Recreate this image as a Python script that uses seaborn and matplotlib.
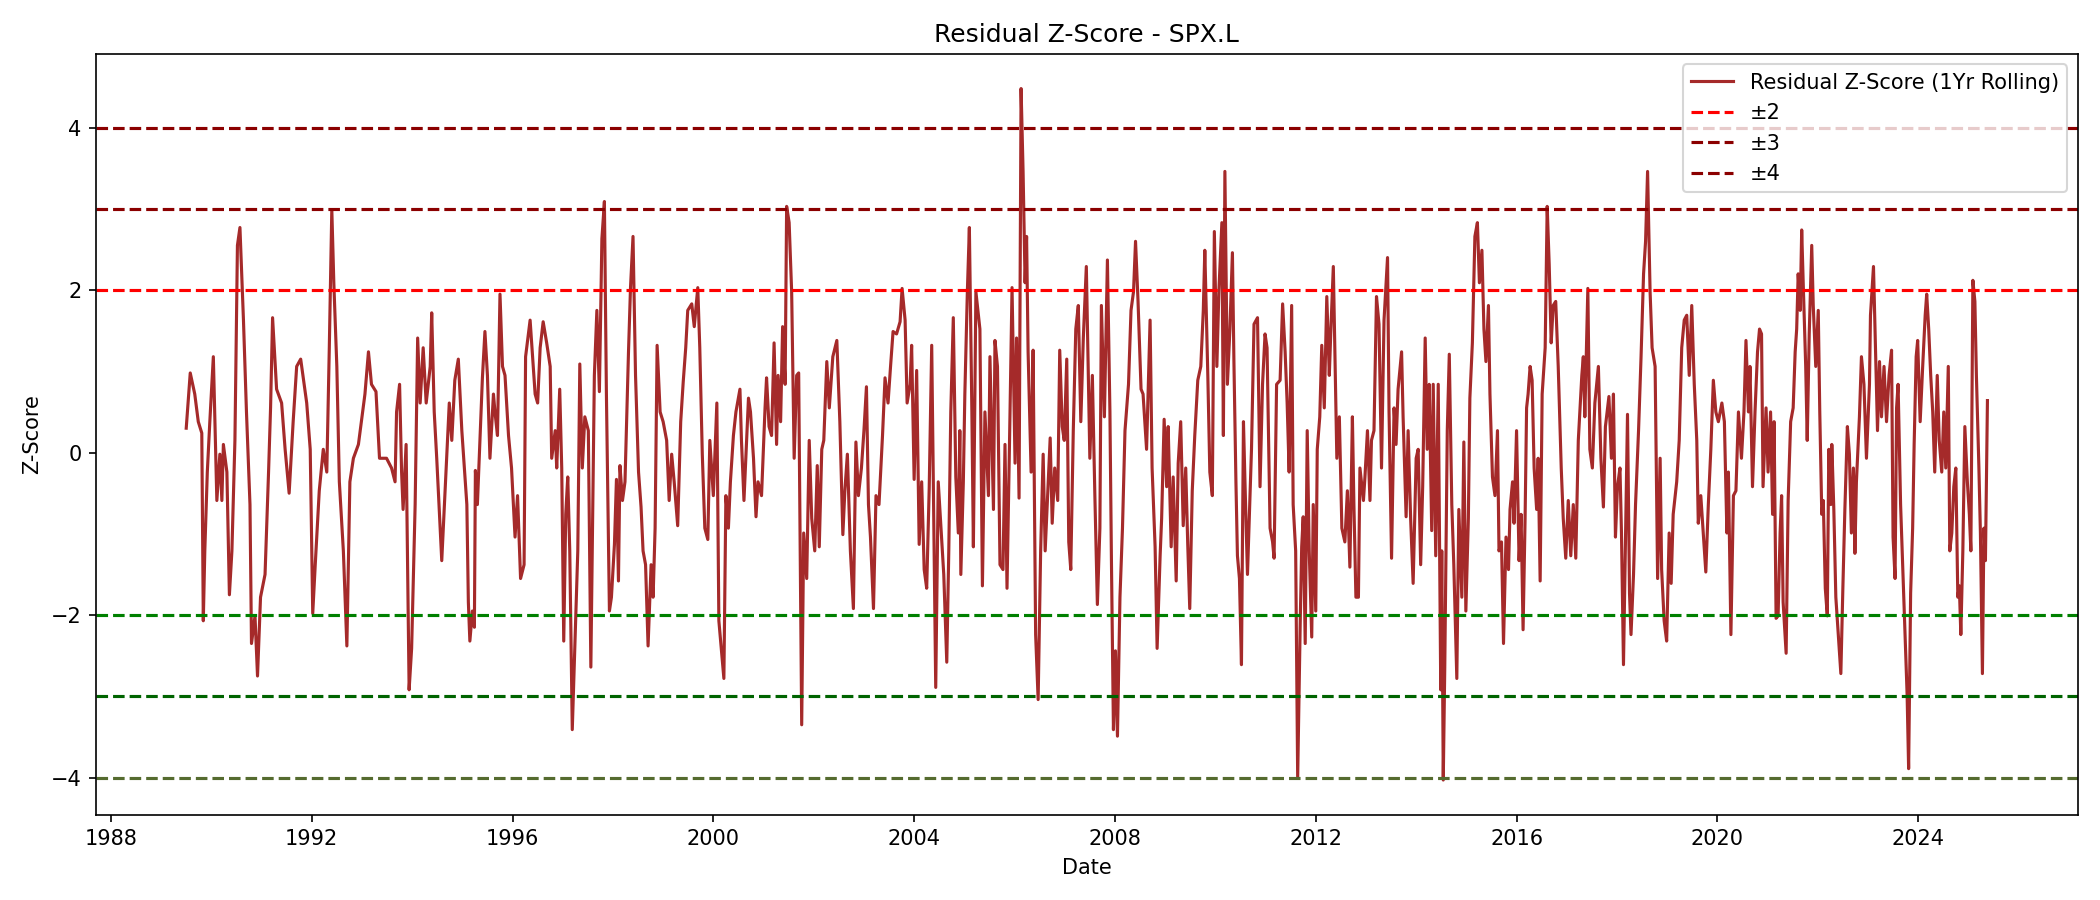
import numpy as np
import pandas as pd
import matplotlib
matplotlib.use("Agg")
import matplotlib.pyplot as plt
import seaborn as sns

# residual z-score, date as decimal year
years = [
    1989.50, 1989.58, 1989.67, 1989.74, 1989.81, 1989.84, 1989.87, 1989.92, 1989.97, 1990.04,
    1990.11, 1990.17, 1990.21, 1990.24, 1990.31, 1990.36, 1990.41, 1990.47, 1990.52, 1990.57,
    1990.64, 1990.70, 1990.77, 1990.80, 1990.87, 1990.92, 1990.98, 1991.07, 1991.14, 1991.18,
    1991.22, 1991.30, 1991.40, 1991.47, 1991.55, 1991.63, 1991.70, 1991.78, 1991.90, 1991.97,
    1992.02, 1992.07, 1992.15, 1992.23, 1992.30, 1992.35, 1992.40, 1992.44, 1992.50, 1992.55,
    1992.63, 1992.70, 1992.76, 1992.83, 1992.93, 1993.06, 1993.13, 1993.19, 1993.28, 1993.35,
    1993.49, 1993.59, 1993.66, 1993.69, 1993.75, 1993.79, 1993.82, 1993.88, 1993.94, 1993.99,
    1994.06, 1994.11, 1994.16, 1994.22, 1994.28, 1994.36, 1994.39, 1994.44, 1994.49, 1994.59,
    1994.66, 1994.74, 1994.79, 1994.85, 1994.92, 1994.99, 1995.09, 1995.12, 1995.15, 1995.20,
    1995.24, 1995.26, 1995.30, 1995.35, 1995.40, 1995.45, 1995.50, 1995.55, 1995.62, 1995.65,
    1995.70, 1995.75, 1995.80, 1995.85, 1995.92, 1995.98, 1996.05, 1996.10, 1996.16, 1996.23,
    1996.26, 1996.35, 1996.45, 1996.50, 1996.55, 1996.61, 1996.68, 1996.75, 1996.78, 1996.85,
    1996.88, 1996.94, 1996.98, 1997.02, 1997.06, 1997.10, 1997.14, 1997.19, 1997.24, 1997.30,
    1997.34, 1997.39, 1997.44, 1997.51, 1997.56, 1997.63, 1997.68, 1997.73, 1997.78, 1997.83,
    1997.87, 1997.93, 1997.97, 1998.03, 1998.07, 1998.11, 1998.14, 1998.19, 1998.24, 1998.31,
    1998.35, 1998.40, 1998.45, 1998.51, 1998.56, 1998.60, 1998.65, 1998.70, 1998.76, 1998.80,
    1998.84, 1998.88, 1998.94, 1999.00, 1999.07, 1999.12, 1999.17, 1999.22, 1999.29, 1999.35,
    1999.40, 1999.45, 1999.49, 1999.57, 1999.62, 1999.69, 1999.73, 1999.78, 1999.83, 1999.89,
    1999.93, 2000.00, 2000.07, 2000.11, 2000.21, 2000.25, 2000.30, 2000.34, 2000.40, 2000.45,
    2000.53, 2000.56, 2000.61, 2000.70, 2000.74, 2000.80, 2000.85, 2000.89, 2000.96, 2001.03,
    2001.06, 2001.11, 2001.16, 2001.21, 2001.26, 2001.29, 2001.34, 2001.38, 2001.43, 2001.46,
    2001.51, 2001.56, 2001.61, 2001.66, 2001.70, 2001.76, 2001.80, 2001.86, 2001.91, 2001.96,
    2002.02, 2002.07, 2002.11, 2002.16, 2002.20, 2002.26, 2002.31, 2002.38, 2002.46, 2002.52,
    2002.58, 2002.62, 2002.67, 2002.73, 2002.79, 2002.84, 2002.89, 2002.95, 2003.00, 2003.05,
    2003.09, 2003.13, 2003.19, 2003.24, 2003.30, 2003.37, 2003.42, 2003.48, 2003.53, 2003.58,
    2003.65, 2003.72, 2003.76, 2003.82, 2003.86, 2003.92, 2003.95, 2004.00, 2004.05, 2004.10,
    2004.15, 2004.20, 2004.25, 2004.30, 2004.35, 2004.43, 2004.48, 2004.55, 2004.59, 2004.65,
    2004.69, 2004.73, 2004.78, 2004.83, 2004.88, 2004.91, 2004.93, 2004.98, 2005.01, 2005.06,
    2005.10, 2005.15, 2005.18, 2005.23, 2005.31, 2005.36, 2005.41, 2005.48, 2005.51, 2005.58,
    2005.61, 2005.66, 2005.71, 2005.77, 2005.81, 2005.85, 2005.91, 2005.95, 2006.01, 2006.04,
    2006.09, 2006.13, 2006.17, 2006.21, 2006.24, 2006.27, 2006.33, 2006.37, 2006.42, 2006.47,
    2006.52, 2006.57, 2006.61, 2006.66, 2006.71, 2006.75, 2006.80, 2006.86, 2006.90, 2006.95,
    2006.99, 2007.04, 2007.08, 2007.12, 2007.17, 2007.22, 2007.27, 2007.32, 2007.37, 2007.43,
    2007.50, 2007.55, 2007.60, 2007.65, 2007.70, 2007.73, 2007.79, 2007.85, 2007.90, 2007.93,
    2007.97, 2008.01, 2008.05, 2008.10, 2008.15, 2008.20, 2008.27, 2008.32, 2008.37, 2008.41,
    2008.46, 2008.52, 2008.56, 2008.63, 2008.70, 2008.74, 2008.80, 2008.84, 2008.90, 2008.93,
    2008.98, 2009.03, 2009.06, 2009.12, 2009.16, 2009.22, 2009.26, 2009.31, 2009.36, 2009.41,
    2009.45, 2009.49, 2009.54, 2009.59, 2009.65, 2009.71, 2009.76, 2009.79, 2009.85, 2009.89,
    2009.94, 2009.98, 2010.03, 2010.07, 2010.13, 2010.16, 2010.19, 2010.24, 2010.29, 2010.34,
    2010.37, 2010.41, 2010.44, 2010.48, 2010.52, 2010.56, 2010.59, 2010.64, 2010.69, 2010.72,
    2010.77, 2010.84, 2010.89, 2010.94, 2010.99, 2011.03, 2011.09, 2011.14, 2011.17, 2011.22,
    2011.29, 2011.34, 2011.39, 2011.43, 2011.47, 2011.52, 2011.55, 2011.60, 2011.64, 2011.69,
    2011.72, 2011.75, 2011.79, 2011.83, 2011.87, 2011.92, 2011.95, 2012.00, 2012.03, 2012.08,
    2012.12, 2012.17, 2012.22, 2012.27, 2012.30, 2012.35, 2012.38, 2012.42, 2012.47, 2012.52,
    2012.58, 2012.63, 2012.68, 2012.73, 2012.76, 2012.80, 2012.85, 2012.88, 2012.95, 2012.98,
    2013.03, 2013.08, 2013.11, 2013.16, 2013.21, 2013.26, 2013.31, 2013.36, 2013.43, 2013.46,
    2013.51, 2013.56, 2013.60, 2013.64, 2013.71, 2013.74, 2013.80, 2013.84, 2013.89, 2013.94,
    2014.00, 2014.04, 2014.09, 2014.13, 2014.18, 2014.22, 2014.26, 2014.31, 2014.34, 2014.39,
    2014.44, 2014.49, 2014.51, 2014.54, 2014.57, 2014.62, 2014.66, 2014.71, 2014.75, 2014.81,
    2014.85, 2014.91, 2014.95, 2014.99, 2015.04, 2015.07, 2015.12, 2015.17, 2015.22, 2015.26,
    2015.31, 2015.35, 2015.39, 2015.44, 2015.47, 2015.52, 2015.57, 2015.62, 2015.65, 2015.70,
    2015.74, 2015.79, 2015.84, 2015.87, 2015.92, 2015.95, 2016.00, 2016.05, 2016.09, 2016.13,
    2016.17, 2016.20, 2016.23, 2016.27, 2016.31, 2016.35, 2016.40, 2016.43, 2016.47, 2016.51,
    2016.57, 2016.61, 2016.65, 2016.69, 2016.73, 2016.78, 2016.83, 2016.89, 2016.93, 2016.98,
    2017.03, 2017.08, 2017.13, 2017.18, 2017.23, 2017.30, 2017.33, 2017.36, 2017.42, 2017.46,
    2017.51, 2017.56, 2017.63, 2017.68, 2017.73, 2017.77, 2017.84, 2017.89, 2017.93, 2017.97,
    2018.01, 2018.06, 2018.09, 2018.13, 2018.17, 2018.21, 2018.25, 2018.28, 2018.33, 2018.37,
    2018.43, 2018.48, 2018.53, 2018.57, 2018.61, 2018.66, 2018.70, 2018.76, 2018.81, 2018.86,
    2018.89, 2018.94, 2018.99, 2019.04, 2019.08, 2019.12, 2019.19, 2019.24, 2019.29, 2019.34,
    2019.39, 2019.44, 2019.49, 2019.54, 2019.59, 2019.62, 2019.67, 2019.72, 2019.77, 2019.82,
    2019.87, 2019.92, 2019.97, 2020.02, 2020.09, 2020.14, 2020.19, 2020.22, 2020.27, 2020.32,
    2020.37, 2020.42, 2020.48, 2020.53, 2020.57, 2020.62, 2020.65, 2020.70, 2020.75, 2020.80,
    2020.84, 2020.88, 2020.91, 2020.97, 2021.01, 2021.06, 2021.10, 2021.13, 2021.17, 2021.21,
    2021.25, 2021.28, 2021.31, 2021.37, 2021.41, 2021.46, 2021.51, 2021.55, 2021.58, 2021.61,
    2021.65, 2021.68, 2021.71, 2021.76, 2021.79, 2021.83, 2021.88, 2021.91, 2021.96, 2022.01,
    2022.04, 2022.08, 2022.11, 2022.15, 2022.19, 2022.22, 2022.26, 2022.28, 2022.32, 2022.36,
    2022.41, 2022.46, 2022.50, 2022.54, 2022.59, 2022.63, 2022.67, 2022.71, 2022.74, 2022.77,
    2022.83, 2022.87, 2022.92, 2022.97, 2023.03, 2023.05, 2023.11, 2023.14, 2023.19, 2023.23,
    2023.27, 2023.32, 2023.37, 2023.42, 2023.47, 2023.50, 2023.54, 2023.57, 2023.60, 2023.65,
    2023.70, 2023.75, 2023.78, 2023.81, 2023.85, 2023.89, 2023.92, 2023.96, 2023.99, 2024.04,
    2024.09, 2024.14, 2024.17, 2024.21, 2024.25, 2024.29, 2024.33, 2024.38, 2024.42, 2024.47,
    2024.51, 2024.55, 2024.60, 2024.63, 2024.67, 2024.71, 2024.75, 2024.79, 2024.82, 2024.85,
    2024.89, 2024.93, 2024.98, 2025.02, 2025.05, 2025.09, 2025.13, 2025.16, 2025.21, 2025.24,
    2025.28, 2025.31, 2025.34, 2025.38,
]

zscore = [
    0.30, 0.98, 0.72, 0.38, 0.24, -2.07, -1.21, -0.24, 0.38, 1.18,
    -0.59, -0.02, -0.59, 0.10, -0.24, -1.75, -1.21, 0.15, 2.55, 2.77,
    1.63, 0.50, -0.64, -2.35, -2.01, -2.75, -1.78, -1.50, -0.24, 0.55,
    1.66, 0.78, 0.61, 0.04, -0.50, 0.38, 1.06, 1.15, 0.61, 0.04,
    -1.98, -1.38, -0.47, 0.04, -0.24, 1.29, 2.99, 2.09, 1.06, -0.36,
    -1.21, -2.38, -0.36, -0.07, 0.10, 0.72, 1.24, 0.84, 0.75, -0.07,
    -0.07, -0.19, -0.36, 0.50, 0.84, -0.24, -0.70, 0.10, -2.92, -2.41,
    -0.64, 1.41, 0.61, 1.29, 0.61, 1.06, 1.72, 0.50, -0.07, -1.33,
    -0.42, 0.61, 0.15, 0.89, 1.15, 0.27, -0.64, -1.84, -2.32, -1.95,
    -2.15, -0.22, -0.64, 0.15, 0.92, 1.49, 0.95, -0.07, 0.72, 0.50,
    0.21, 1.95, 1.06, 0.95, 0.21, -0.19, -1.04, -0.53, -1.55, -1.38,
    1.18, 1.63, 0.72, 0.61, 1.29, 1.61, 1.35, 1.06, -0.07, 0.27,
    -0.19, 0.78, -0.19, -2.32, -0.76, -0.30, -1.21, -3.41, -2.41, -1.21,
    1.09, -0.19, 0.44, 0.27, -2.64, 0.95, 1.75, 0.75, 2.63, 3.09,
    0.72, -1.95, -1.78, -1.13, -0.33, -1.58, -0.16, -0.59, -0.36, 1.24,
    2.03, 2.66, 0.95, -0.24, -0.67, -1.21, -1.38, -2.38, -1.38, -1.78,
    -0.93, 1.32, 0.50, 0.38, 0.15, -0.59, -0.02, -0.36, -0.90, 0.38,
    0.87, 1.29, 1.75, 1.83, 1.55, 2.03, 1.29, -0.02, -0.93, -1.07,
    0.15, -0.53, 0.61, -2.07, -2.78, -0.53, -0.93, -0.36, 0.21, 0.50,
    0.78, 0.15, -0.59, 0.67, 0.50, -0.07, -0.79, -0.36, -0.53, 0.55,
    0.92, 0.32, 0.21, 1.35, 0.10, 0.95, 0.38, 1.55, 0.84, 3.03,
    2.83, 1.98, -0.07, 0.95, 0.98, -3.35, -0.99, -1.55, 0.15, -0.81,
    -1.21, -0.16, -1.16, 0.04, 0.15, 1.12, 0.55, 1.18, 1.38, 0.38,
    -1.01, -0.47, -0.02, -1.21, -1.92, 0.13, -0.53, -0.19, 0.27, 0.81,
    -0.64, -1.04, -1.92, -0.53, -0.64, 0.21, 0.92, 0.61, 1.06, 1.49,
    1.46, 1.61, 2.02, 1.63, 0.61, 0.84, 1.32, -0.33, 1.01, -1.13,
    -0.36, -1.44, -1.67, -0.44, 1.32, -2.89, -0.36, -1.10, -1.50, -2.58,
    -1.21, 0.50, 1.66, -0.30, -0.99, 0.27, -1.50, -0.36, 0.72, 1.98,
    2.77, 0.50, -1.16, 1.98, 1.52, -1.64, 0.50, -0.53, 1.18, -0.70,
    1.38, 1.06, -1.38, -1.44, 0.10, -1.67, 0.50, 2.03, -0.13, 1.41,
    -0.56, 4.48, 3.46, 2.09, 2.66, 1.24, -0.24, 1.26, -2.24, -3.04,
    -1.21, -0.02, -1.21, -0.53, 0.18, -0.87, -0.19, -0.59, 1.26, 0.32,
    0.15, 1.15, -1.10, -1.44, 0.27, 1.52, 1.81, 0.38, 1.41, 2.29,
    -0.07, 0.95, -0.53, -1.87, -0.93, 1.81, 0.44, 2.37, 0.50, -1.33,
    -3.41, -2.44, -3.49, -1.78, -0.93, 0.27, 0.84, 1.75, 1.98, 2.60,
    1.86, 0.78, 0.72, 0.04, 1.63, -0.19, -1.16, -2.41, -1.27, -0.81,
    0.41, -0.42, 0.32, -1.16, -0.30, -1.58, -0.13, 0.38, -0.90, -0.19,
    -1.13, -1.92, -0.47, 0.21, 0.89, 1.06, 1.75, 2.49, 0.95, -0.24,
    -0.53, 2.72, 1.06, 1.98, 2.83, 0.21, 3.46, 0.84, 1.52, 2.46,
    1.12, -0.36, -1.27, -1.55, -2.61, 0.38, -0.36, -1.50, -0.53, 0.04,
    1.58, 1.66, -0.42, 0.84, 1.46, 1.29, -0.93, -1.10, -1.30, 0.84,
    0.89, 1.83, 1.24, 0.61, -0.24, 1.81, -0.64, -1.21, -4.00, -2.12,
    -1.16, -0.79, -2.35, 0.27, -1.21, -2.27, -0.64, -1.95, 0.04, 0.44,
    1.32, 0.55, 1.92, 0.95, 1.49, 2.29, 1.29, -0.07, 0.44, -0.93,
    -1.10, -0.47, -1.41, 0.44, -0.64, -1.78, -1.78, -0.19, -0.59, -0.30,
    0.27, -0.59, 0.15, 0.27, 1.92, 1.58, -0.19, 1.63, 2.40, 0.50,
    -1.30, 0.55, 0.10, 0.78, 1.24, 0.44, -0.79, 0.27, -0.81, -1.61,
    -0.07, 0.04, -1.38, -0.42, 1.41, 0.04, 0.84, -0.96, 0.84, -1.27,
    0.84, -2.92, -1.21, -4.03, -2.64, 0.27, 1.21, -0.64, -1.38, -2.78,
    -0.70, -1.78, 0.13, -1.95, -0.81, 0.67, 1.35, 2.66, 2.83, 2.09,
    2.49, 1.52, 1.12, 1.81, 0.72, -0.30, -0.53, 0.27, -1.21, -1.10,
    -2.35, -1.04, -1.44, -0.70, -0.36, -0.87, 0.27, -1.33, -0.76, -2.18,
    -0.81, 0.55, 0.72, 1.06, 0.89, -0.19, -0.70, -0.07, -1.58, 0.72,
    1.29, 3.03, 2.32, 1.35, 1.81, 1.86, 1.06, -0.19, -0.81, -1.30,
    -0.59, -1.27, -0.64, -1.30, 0.15, 0.95, 1.18, 0.44, 2.02, 0.04,
    -0.19, 0.61, 1.06, -0.07, -0.67, 0.32, 0.69, -0.07, 0.72, -1.04,
    -0.42, -0.19, -0.99, -2.61, -1.10, 0.47, -1.73, -2.24, -1.50, -0.64,
    0.27, 1.18, 2.20, 2.60, 3.46, 1.98, 1.29, 1.06, -1.55, -0.07,
    -1.44, -2.07, -2.32, -0.99, -1.61, -0.76, -0.36, 0.15, 1.29, 1.63,
    1.69, 0.95, 1.81, 0.84, 0.15, -0.87, -0.53, -0.99, -1.47, -0.64,
    0.04, 0.89, 0.50, 0.38, 0.61, 0.38, -0.99, -0.24, -2.24, -0.53,
    -0.47, 0.50, -0.07, 0.50, 1.38, 0.50, 1.06, -0.42, 0.50, 1.24,
    1.52, 1.46, -0.42, 0.55, -0.24, 0.50, -0.76, 0.38, -2.04, -2.01,
    -0.99, -0.53, -1.84, -2.47, -0.59, 0.38, 0.55, 1.24, 1.52, 2.20,
    1.75, 2.74, 2.09, 1.06, 0.15, 1.46, 2.55, 1.81, 1.06, 1.75,
    0.50, -0.76, -0.59, -1.67, -2.01, 0.04, -0.64, 0.10, -0.70, -1.78,
    -2.24, -2.72, -1.67, -0.70, 0.32, -0.02, -0.99, -0.19, -1.24, -0.36,
    0.44, 1.18, 0.84, -0.07, 0.84, 1.69, 2.29, 1.52, 0.27, 1.12,
    0.44, 1.06, 0.38, 0.95, 1.26, -1.04, -1.55, 0.55, 0.84, -0.64,
    -1.55, -2.47, -2.98, -3.89, -1.73, -0.93, 0.10, 1.18, 1.38, 0.38,
    1.06, 1.69, 1.95, 1.52, 0.95, 0.50, -0.24, 0.95, 0.15, -0.24,
    0.50, -0.19, 1.06, -1.21, -0.99, -0.42, -0.19, -1.78, -1.64, -2.24,
    -1.21, 0.32, -0.36, -0.76, -1.21, 2.12, 1.86, 0.95, -0.19, -0.99,
    -2.72, -0.93, -1.33, 0.64,
]

bands = [2, 3, 4]
upper_colors = ["red", "darkred", "darkred"]
lower_colors = ["green", "darkgreen", "darkolivegreen"]
band_labels = ["\u00b12", "\u00b13", "\u00b14"]

yr = np.array(years)
dates = pd.Timestamp("1988-01-01") + pd.to_timedelta((yr - 1988) * 365.2425, unit="D")
df = pd.DataFrame({"Date": dates, "Z": zscore})

fig, ax = plt.subplots(figsize=(14, 6), dpi=150)
sns.lineplot(data=df, x="Date", y="Z", color="brown", linewidth=1.5,
             label="Residual Z-Score (1Yr Rolling)", ax=ax)

for b, cu, cl, lab in zip(bands, upper_colors, lower_colors, band_labels):
    ax.axhline(b, color=cu, linestyle="--", linewidth=1.5, label=lab)
    ax.axhline(-b, color=cl, linestyle="--", linewidth=1.5)

ax.set_title("Residual Z-Score - SPX.L")
ax.set_xlabel("Date")
ax.set_ylabel("Z-Score")
ax.legend(loc="upper right")

fig.tight_layout()
fig.savefig("out.png")
